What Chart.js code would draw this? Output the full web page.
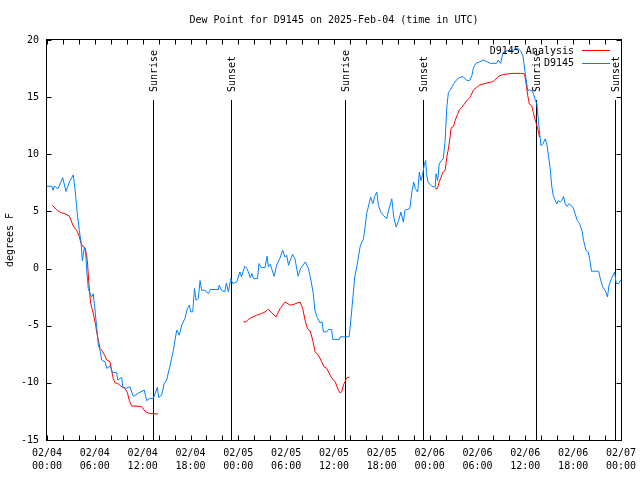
<!DOCTYPE html>
<html>
<head>
<meta charset="utf-8">
<title>Dew Point for D9145</title>
<script src="https://cdn.jsdelivr.net/npm/chart.js@4.4.1/dist/chart.umd.min.js"></script>
<style>
  html, body { margin: 0; padding: 0; background: #fff; }
  canvas { display: block; }
</style>
</head>
<body>
<canvas id="dew" width="640" height="480"></canvas>
<script>
// hours since 02/04 00:00 UTC
const titleText = 'Dew Point for D9145 on 2025-Feb-04 (time in UTC)';
const xTickDays = ['02/04', '02/04', '02/04', '02/04', '02/05', '02/05', '02/05', '02/05', '02/06', '02/06', '02/06', '02/06', '02/07'];
const xTickTimes = ['00:00', '06:00', '12:00', '18:00', '00:00', '06:00', '12:00', '18:00', '00:00', '06:00', '12:00', '18:00', '00:00'];

const eventHours = [13.33, 23.1, 37.43, 47.2, 61.4, 71.3];
const eventNames = ['Sunrise', 'Sunset', 'Sunrise', 'Sunset', 'Sunrise', 'Sunset'];

// D9145 observations
const obsHours = [
  0, 0.6, 0.75, 0.9, 1.4, 1.97, 2.38, 2.8, 3.3, 3.55, 3.8, 4.05, 4.27, 4.43, 4.68, 4.85, 4.98, 5.18, 5.4, 5.6,
  5.8, 5.94, 6.23, 6.44, 6.65, 6.86, 7.28, 7.5, 7.9, 8.24, 8.74, 8.87, 9.37, 9.5, 9.9, 10.4, 10.83, 11.46, 12.2, 12.5,
  12.9, 13.34, 13.84, 14.0, 14.39, 14.68, 15.0, 15.43, 15.85, 16.06, 16.27, 16.6, 16.9, 17.3, 17.6, 17.86, 18.03, 18.28, 18.5, 18.7,
  18.98, 19.2, 19.4, 19.8, 20.24, 20.5, 21.5, 21.6, 21.9, 22.3, 22.5, 22.75, 23.05, 23.3, 23.8, 24.2, 24.4, 24.8, 25.1, 25.5,
  25.7, 25.9, 26.4, 26.6, 26.9, 27.35, 27.6, 27.77, 28.0, 28.5, 28.8, 29.2, 29.57, 29.86, 30.07, 30.3, 30.5, 30.8, 31.1, 31.5,
  31.8, 32.4, 32.8, 33.1, 33.4, 33.6, 33.9, 34.25, 34.5, 34.67, 35.1, 35.3, 35.7, 35.85, 36.7, 36.76, 37.9, 38.1, 38.36, 38.6,
  38.85, 39.06, 39.27, 39.5, 39.7, 39.9, 40.1, 40.3, 40.6, 40.87, 41.15, 41.37, 41.57, 41.87, 42.2, 42.6, 42.95, 43.25, 43.5, 43.8,
  44.1, 44.4, 44.7, 44.9, 45.5, 45.8, 46.0, 46.2, 46.5, 46.7, 46.9, 47.1, 47.3, 47.5, 47.6, 47.8, 48.3, 48.7, 48.8, 49.0,
  49.2, 49.5, 49.7, 49.94, 50.15, 50.35, 50.65, 51.0, 51.3, 51.7, 52.2, 52.45, 52.7, 53.0, 53.3, 53.5, 53.8, 54.3, 54.7, 55.1,
  55.6, 56.4, 56.6, 56.9, 57.2, 57.7, 58.5, 59.0, 59.4, 59.7, 60.0, 60.3, 60.5, 60.8, 61.0, 61.2, 61.45, 61.6, 61.77, 61.95,
  62.2, 62.5, 62.7, 62.9, 63.1, 63.3, 63.5, 63.7, 63.95, 64.15, 64.37, 64.58, 64.8, 65.0, 65.2, 65.5, 65.96, 66.25, 66.5, 66.8,
  67.1, 67.3, 67.6, 67.9, 68.1, 68.3, 69.2, 69.4, 69.7, 70.0, 70.3, 70.5, 70.8, 71.2, 71.4, 71.7, 72.0
];
const obsDew = [
  7.2, 7.2, 6.85, 7.2, 7.0, 7.95, 6.75, 7.56, 8.2, 6.7, 4.8, 3.35, 2.32, 0.7, 1.82, 1.44, -0.15, -1.75, -2.18, -2.48,
  -2.2, -3.06, -5.1, -6.7, -7.14, -8.0, -8.16, -8.73, -8.53, -9.1, -9.1, -9.76, -9.52, -10.34, -10.48, -10.34, -11.2, -10.9, -10.63, -11.56,
  -11.36, -11.36, -10.4, -11.27, -11.07, -10.1, -9.76, -8.5, -7.14, -6.26, -5.39, -5.83, -4.95, -4.37, -3.5, -3.2, -3.79, -3.79, -1.75, -2.77,
  -2.62, -1.05, -1.9, -1.9, -2.18, -1.83, -1.83, -1.46, -1.9, -2.04, -1.26, -2.04, -0.88, -1.31, -1.17, -0.3, -0.73, 0.2, 0.0, -0.8,
  -0.44, -0.88, -0.88, 0.44, 0.08, 0.08, 1.08, 0.15, 0.38, -0.67, 0.3, 0.87, 1.6, 1.0, 1.16, 0.29, 0.7, 1.25, 0.87, -0.67,
  0.0, 0.58, 0.0, -1.0, -2.18, -3.64, -4.28, -4.75, -4.66, -5.54, -5.54, -5.33, -5.33, -6.2, -6.2, -5.97, -5.97, -4.6, -2.6, -0.73,
  0.15, 1.0, 1.9, 2.32, 2.6, 3.63, 4.8, 5.38, 6.25, 5.68, 6.4, 6.69, 5.53, 4.94, 4.65, 4.37, 5.38, 6.1, 4.5, 3.63,
  4.2, 4.94, 4.07, 5.1, 5.24, 6.84, 7.56, 6.99, 6.69, 8.44, 7.7, 8.15, 9.0, 9.46, 8.3, 7.56, 7.19, 7.13, 8.3, 7.7,
  9.17, 9.46, 9.6, 11.2, 14.1, 15.4, 15.7, 16.16, 16.45, 16.7, 16.8, 16.6, 16.45, 16.45, 16.9, 17.6, 17.96, 18.1, 18.25, 18.13,
  17.96, 17.96, 18.25, 17.96, 18.9, 19.06, 19.1, 19.3, 19.06, 18.63, 17.03, 15.57, 15.63, 15.57, 15.34, 14.85, 14.4, 13.24, 12.08, 10.77,
  10.9, 11.35, 10.9, 9.9, 8.87, 7.27, 6.4, 6.03, 5.67, 5.96, 5.82, 5.96, 6.31, 5.67, 5.44, 5.67, 5.38, 4.8, 4.22, 3.93,
  3.35, 2.47, 1.6, 1.44, 0.73, -0.23, -0.23, -0.87, -1.6, -1.9, -2.48, -1.46, -0.87, -0.3, -1.31, -1.31, -0.96
];

// D9145 Analysis (null marks a gap in the analysis)
const anaHours = [
  0.67, 1.2, 1.7, 2.26, 2.8, 3.1, 3.3, 3.72, 4.05, 4.22, 4.47, 4.77, 4.98, 5.1, 5.27, 5.48, 5.69, 5.9, 6.1, 6.23,
  6.44, 6.65, 6.98, 7.28, 7.5, 7.9, 8.1, 8.3, 8.53, 8.95, 9.37, 9.79, 10.1, 10.33, 10.62, 11.04, 11.88, 12.17, 12.5, 12.9,
  13.9, 19,
  24.63, 24.97, 25.25, 25.68, 26.3, 26.94, 27.35, 27.77, 28.19, 28.73, 29.24, 29.86, 30.5, 30.99, 31.74, 32.08, 32.37, 32.66, 33.0, 33.33,
  33.63, 34.04, 34.46, 34.76, 35.1, 35.5, 35.85, 36.14, 36.55, 36.76, 36.97, 37.18, 37.52, 37.68, 37.93, 43,
  48.68, 48.97, 49.18, 49.44, 49.65, 49.94, 50.15, 50.35, 50.56, 50.69, 50.98, 51.2, 51.48, 51.73, 52.03, 52.3, 52.66, 53.07, 53.5, 53.9,
  54.3, 54.96, 55.6, 56.0, 56.6, 57.05, 57.7, 58.5, 59.35, 59.9, 60.1, 60.3, 60.5, 60.8, 61.0, 61.2, 61.45, 61.6, 61.77
];
const anaDew = [
  5.53, 5.15, 4.9, 4.8, 4.6, 4.07, 3.7, 3.35, 2.82, 2.32, 1.95, 1.83, 1.16, 0.29, -1.46, -3.06, -3.58, -4.23, -4.95, -5.54,
  -6.26, -6.99, -7.28, -7.66, -8.0, -8.16, -8.88, -9.6, -9.99, -10.1, -10.34, -10.48, -10.9, -11.56, -12.03, -12.03, -12.08, -12.38, -12.6, -12.67,
  -12.73, null,
  -4.66, -4.66, -4.45, -4.28, -4.08, -3.93, -3.79, -3.55, -3.88, -4.23, -3.5, -2.92, -3.2, -3.12, -2.92, -3.5, -4.52, -5.24, -5.45, -6.26,
  -7.28, -7.57, -8.16, -8.6, -8.73, -9.32, -9.69, -9.9, -10.63, -10.87, -10.78, -10.19, -9.69, -9.52, -9.52, null,
  6.99, 6.99, 7.56, 8.0, 8.44, 8.58, 9.75, 10.48, 11.5, 12.31, 12.43, 12.95, 13.48, 13.89, 14.11, 14.35, 14.7, 14.99, 15.63, 15.86,
  16.07, 16.2, 16.3, 16.38, 16.8, 16.94, 17.03, 17.08, 17.08, 17.03, 16.16, 15.14, 14.4, 14.26, 13.68, 13.1, 12.5, 12.14, 11.5
];

const FONT = '10px "DejaVu Sans Mono", monospace';
const toPoints = (xs, ys) => xs.map((x, i) => ({ x, y: ys[i] }));

// gnuplot-style frame, inward ticks, sun markers, legend and title
const decorations = {
  id: 'decorations',
  beforeDatasetsDraw(chart) {
    const { ctx, chartArea: a, scales: { x } } = chart;
    ctx.save();
    ctx.strokeStyle = '#000';
    ctx.fillStyle = '#000';
    ctx.lineWidth = 1;
    ctx.font = FONT;
    eventHours.forEach((h, i) => {
      const px = Math.round(x.getPixelForValue(h)) + 0.5;
      ctx.beginPath();
      ctx.moveTo(px, a.top + 60);
      ctx.lineTo(px, a.bottom);
      ctx.stroke();
      ctx.save();
      ctx.translate(px + 1, a.top + 52);
      ctx.rotate(-Math.PI / 2);
      ctx.textAlign = 'left';
      ctx.textBaseline = 'middle';
      ctx.fillText(eventNames[i], 0, 0);
      ctx.restore();
    });
    ctx.restore();
  },
  afterDraw(chart) {
    const { ctx, chartArea: a, scales: { x, y } } = chart;
    const L = Math.round(a.left) - 0.5, R = Math.round(a.right) + 0.5;
    const T = Math.round(a.top) - 0.5, B = Math.round(a.bottom) + 0.5;
    ctx.save();
    ctx.strokeStyle = '#000';
    ctx.fillStyle = '#000';
    ctx.lineWidth = 1;
    ctx.strokeRect(L, T, R - L, B - T);
    ctx.beginPath();
    x.ticks.forEach(t => {
      const px = Math.round(x.getPixelForValue(t.value)) + 0.5;
      ctx.moveTo(px, B); ctx.lineTo(px, B - 5);
      ctx.moveTo(px, T); ctx.lineTo(px, T + 5);
    });
    y.ticks.forEach(t => {
      const py = Math.round(y.getPixelForValue(t.value)) + 0.5;
      ctx.moveTo(L, py); ctx.lineTo(L + 5, py);
      ctx.moveTo(R, py); ctx.lineTo(R - 5, py);
    });
    ctx.stroke();

    ctx.font = FONT;
    ctx.textBaseline = 'middle';
    ctx.textAlign = 'center';
    ctx.fillText(titleText, (a.left + a.right) / 2, 20);

    ctx.textAlign = 'right';
    chart.data.datasets.forEach((ds, i) => {
      const ly = a.top + 11 + i * 12.5;
      ctx.fillStyle = '#000';
      ctx.fillText(ds.label, a.right - 47, ly);
      ctx.strokeStyle = ds.borderColor;
      ctx.beginPath();
      ctx.moveTo(a.right - 39, Math.round(ly) - 0.5);
      ctx.lineTo(a.right - 11, Math.round(ly) - 0.5);
      ctx.stroke();
    });
    ctx.restore();
  }
};

Chart.defaults.font.family = '"DejaVu Sans Mono", monospace';
Chart.defaults.font.size = 10;
Chart.defaults.color = '#000';

new Chart(document.getElementById('dew'), {
  type: 'line',
  data: {
    datasets: [
      {
        label: 'D9145 Analysis',
        data: toPoints(anaHours, anaDew),
        borderColor: '#ff0000',
        borderWidth: 1,
        pointRadius: 0,
        spanGaps: false,
        order: 1
      },
      {
        label: 'D9145',
        data: toPoints(obsHours, obsDew),
        borderColor: 'rgb(0,128,255)',
        borderWidth: 1,
        pointRadius: 0,
        order: 0
      }
    ]
  },
  options: {
    responsive: false,
    animation: false,
    layout: { padding: { top: 40, right: 19, left: 0, bottom: 0 } },
    plugins: {
      legend: { display: false },
      title: { display: false },
      tooltip: { enabled: false }
    },
    scales: {
      x: {
        type: 'linear',
        min: 0,
        max: 72,
        grid: { display: false, drawTicks: false },
        border: { display: false },
        ticks: {
          stepSize: 2,
          autoSkip: false,
          maxRotation: 0,
          padding: 7,
          font: { lineHeight: 1.3 },
          callback: v => (v % 6 === 0 ? [xTickDays[v / 6], xTickTimes[v / 6]] : '')
        },
        afterFit: s => { s.height = 40; s.paddingLeft = 0; s.paddingRight = 0; }
      },
      y: {
        min: -15,
        max: 20,
        grid: { display: false, drawTicks: false },
        border: { display: false },
        ticks: { stepSize: 5, padding: 8 },
        title: { display: true, text: 'degrees F', padding: { top: 4, bottom: 0 } },
        afterFit: s => { s.width = 47; s.paddingTop = 0; s.paddingBottom = 0; }
      }
    }
  },
  plugins: [decorations]
});
</script>
</body>
</html>
